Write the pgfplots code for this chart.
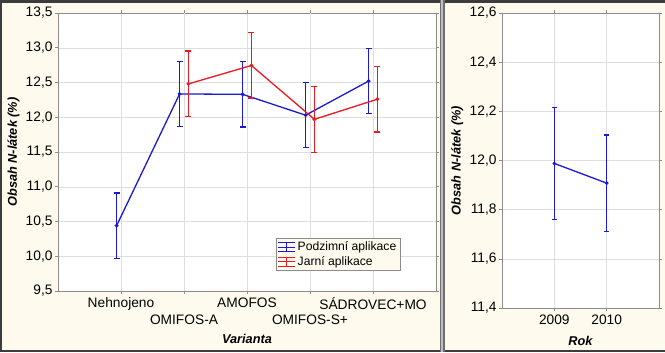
\documentclass[border=0pt]{standalone}
\usepackage{fontspec}
\setmainfont{Liberation Sans}
\usepackage{pgfplots}
\pgfplotsset{compat=1.18}
\definecolor{cream}{RGB}{254,251,238}
\definecolor{sblue}{RGB}{25,25,215}
\definecolor{sred}{RGB}{235,25,35}
\definecolor{frame}{RGB}{60,60,60}
\definecolor{sep}{RGB}{110,110,110}
\definecolor{axgray}{RGB}{140,140,140}
\definecolor{gridgray}{RGB}{222,222,222}
\newcommand{\fs}{\fontsize{13.8}{15.9}\selectfont}
\newcommand{\fl}{\fontsize{12.8}{15}\selectfont}
\pgfplotsset{
  common/.style={
    scale only axis,
    axis background/.style={fill=white},
    axis line style={axgray, line width=0.8pt},
    tick align=outside,
    major tick length=3bp,
    tick style={axgray, line width=0.6pt},
    grid=major,
    grid style={gridgray, line width=0.5pt},
    /pgf/number format/use comma,
    /pgf/number format/fixed,
    /pgf/number format/fixed zerofill,
    /pgf/number format/precision=1,
    /pgf/number format/assume math mode=true,
    tick label style={font=\fs},
    yticklabel style={xshift=1bp},
    label style={font=\fl\bfseries\itshape},
    legend image code/.code={
      \draw[##1, line width=0.9pt] (0bp,4.5bp) -- (17bp,4.5bp)
        (0bp,0bp) -- (17bp,0bp) (0bp,-4.5bp) -- (17bp,-4.5bp)
        (8.5bp,-4.5bp) -- (8.5bp,4.5bp);
    },
  },
  ser/.style={#1, line width=1.3pt, mark=*, mark size=1.2pt,
    mark options={fill=#1, draw=#1},
    error bars/.cd, y dir=both, y explicit,
    error bar style={line width=1.3pt, #1},
    error mark options={#1, rotate=90, mark size=3bp, line width=1.3pt}},
}
\begin{document}
\begin{tikzpicture}[x=1bp,y=1bp]
\useasboundingbox (0,0) rectangle (665,352);
\fill[cream] (0,0) rectangle (665,352);
\fill[frame] (0,349) rectangle (665,352);
\fill[frame] (0,0) rectangle (665,2.5);
\fill[frame] (0,0) rectangle (2,352);
\fill[sep] (439.5,0) rectangle (444.5,352);
\fill[gray!50] (441.2,0) rectangle (442.8,352);

\begin{axis}[common, at={(58bp,61bp)}, anchor=south west,
  width=378bp, height=278bp,
  xmin=-1, xmax=5, ymin=9.5, ymax=13.5,
  ytick={9.5,10,10.5,11,11.5,12,12.5,13,13.5},
  xtick={0,2,4}, xticklabels={Nehnojeno,AMOFOS,SÁDROVEC+MO},
  extra x ticks={1,3}, extra x tick labels={OMIFOS-A,OMIFOS-S+},
  extra x tick style={grid=major, xticklabel style={yshift=-17bp}},
  xlabel={Varianta}, ylabel={Obsah N-látek (\%)},
  xlabel style={at={(axis description cs:0.5,-0.173)}, anchor=center},
  ylabel style={at={(axis description cs:-0.118,0.5)}, anchor=center},
  legend style={at={(axis description cs:0.577,0.19)}, anchor=north west,
    fill=cream, draw=axgray, inner sep=1.5bp, row sep=0bp,
    font=\fontsize{12.2}{14}\selectfont,
    nodes={inner sep=2bp},
    /tikz/every even column/.append style={column sep=4bp}},
  legend cell align=left,
]
\addplot[ser=sblue] coordinates {
  (-0.07,10.44) +- (0,0.47)
  (0.93,12.335) +- (0,0.47)
  (1.93,12.33) +- (0,0.47)
  (2.93,12.03) +- (0,0.47)
  (3.93,12.52) +- (0,0.47)
};
\addplot[ser=sred] coordinates {
  (1.07,12.48) +- (0,0.473)
  (2.07,12.745) +- (0,0.47)
  (3.07,11.97) +- (0,0.473)
  (4.07,12.26) +- (0,0.473)
};
\legend{Podzimní aplikace, Jarní aplikace}
\end{axis}

\begin{axis}[common, at={(502bp,44bp)}, anchor=south west,
  width=157bp, height=295bp,
  xmin=-1, xmax=2, ymin=11.4, ymax=12.6,
  ytick={11.4,11.6,11.8,12.0,12.2,12.4,12.6},
  xtick={0,1}, xticklabels={2009,2010},
  xlabel={Rok}, ylabel={Obsah N-látek (\%)},
  xlabel style={at={(axis description cs:0.5,-0.112)}, anchor=center},
  ylabel style={at={(axis description cs:-0.285,0.5)}, anchor=center},
]
\addplot[sblue, line width=1.3pt, mark=*, mark size=1.1pt,
    error bars/.cd, y dir=both, y explicit,
    error bar style={line width=1.3pt, sblue},
    error mark options={sblue, rotate=90, mark size=2.2bp, line width=1.3pt}]
  coordinates {
  (0,11.988) +- (0,0.227)
  (1,11.908) +- (0,0.196)
};
\end{axis}
\end{tikzpicture}
\end{document}
